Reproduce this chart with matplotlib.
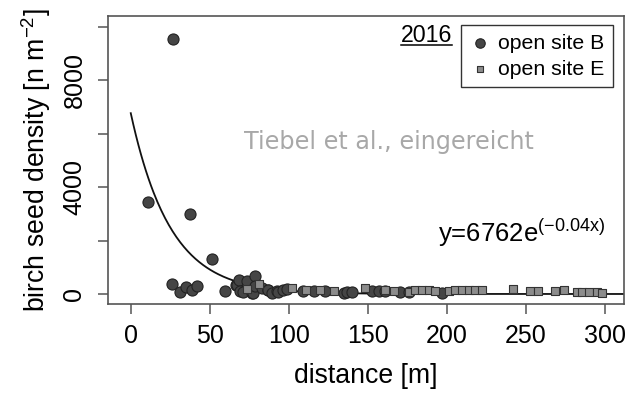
import numpy as np
import matplotlib
matplotlib.use('Agg')
import matplotlib.pyplot as plt
from matplotlib.lines import Line2D

# site B (circles)
b_dist = [11, 26.8, 26, 31, 35, 37.6, 38.8, 41.7, 51.5, 59.8,
          66.5, 67, 68.5, 69, 71.3, 73.4, 76.6, 77.2, 78.7, 78.7,
          82.9, 86.5, 87, 89.6, 92.4, 93.4, 96.6, 98.7, 109, 115.6,
          123, 134.6, 137, 139.9, 152.6, 156.8, 161, 170.5, 176, 196.8]
b_dens = [3440, 9530, 360, 90, 250, 2990, 150, 290, 1300, 110,
          340, 350, 535, 100, 86, 473, 40, 30, 660, 290,
          220, 150, 160, 30, 100, 86, 160, 200, 120, 110,
          130, 40, 60, 70, 110, 100, 120, 80, 60, 30]

# site E (squares)
e_dist = [73.8, 81.4, 101.9, 110.8, 119.8, 128.3, 148.3, 161, 166.3, 175.7,
          180, 184.2, 188.4, 192.6, 201, 205.3, 209.5, 213.7, 218, 222.2,
          242, 252.7, 257.6, 268.5, 273.8, 282.3, 285.4, 289.6, 294.9, 298.1]
e_dens = [200, 370, 220, 160, 140, 120, 230, 150, 130, 60,
          150, 150, 140, 120, 110, 150, 140, 140, 140, 150,
          200, 100, 110, 110, 140, 60, 60, 70, 60, 40]

fit_a = 6762
fit_b = -0.04

plt.rcParams['font.family'] = ['Liberation Sans', 'DejaVu Sans']
plt.rcParams['mathtext.fontset'] = 'custom'
plt.rcParams['mathtext.rm'] = 'Liberation Sans'
plt.rcParams['mathtext.it'] = 'Liberation Sans:italic'
plt.rcParams['mathtext.default'] = 'regular'

fig = plt.figure(figsize=(6.29, 3.93), dpi=100)
ax = fig.add_axes([0.1717, 0.2265, 0.8203, 0.7325])

xx = np.linspace(0, 320, 400)
ax.plot(xx, fit_a * np.exp(fit_b * xx), color='#111111', lw=1.3, zorder=2)

ax.scatter(b_dist, b_dens, s=64, marker='o', facecolor='#454545',
           edgecolor='#222222', linewidth=0.8, zorder=3, label='open site B')
ax.scatter(e_dist, e_dens, s=32, marker='s', facecolor='#8c8c8c',
           edgecolor='#333333', linewidth=0.8, zorder=4, label='open site E')

ax.set_xlim(-14.4, 312)
ax.set_ylim(-374, 10393)
ax.set_xticks([0, 50, 100, 150, 200, 250, 300])
ax.set_yticks([0, 2000, 4000, 6000, 8000, 10000])
ax.set_yticklabels(['0', '', '4000', '', '8000', ''])

for s in ax.spines.values():
    s.set_color('#555555')
    s.set_linewidth(1.2)
ax.tick_params(axis='both', length=7.5, width=1.1, color='#555555',
               labelsize=18, pad=7)
ax.tick_params(axis='y', labelrotation=90, pad=8)
for lab in ax.get_yticklabels():
    lab.set_verticalalignment('center')

ax.set_xlabel('distance [m]', fontsize=19.2, labelpad=11)
ax.set_ylabel(r'birch seed density [n m$^{-2}$]', fontsize=19.2, labelpad=7)

leg = ax.legend(loc='upper right', bbox_to_anchor=(0.9787, 0.969),
                fontsize=15.3, frameon=True, fancybox=False, framealpha=1,
                edgecolor='#333333', handletextpad=0.35, borderpad=0.4,
                handlelength=1.0, labelspacing=0.35, borderaxespad=0,
                markerscale=0.85)
leg.get_frame().set_linewidth(1.0)

yr = ax.text(0.6167, 0.9108, '2016', transform=ax.transAxes,
             fontsize=16.7, ha='center', va='baseline')
ax.text(0.6395, 0.214, r'y=6762e$^{(-0.04x)}$', transform=ax.transAxes,
        fontsize=18.5, ha='left', va='baseline')
ax.text(0.544, 0.5625, 'Tiebel et al., eingereicht', transform=ax.transAxes,
        fontsize=17.2, family='DejaVu Sans', color='#a8a8a8',
        ha='center', va='center')

# underline the year label
fig.canvas.draw()
bb = yr.get_window_extent().transformed(fig.transFigure.inverted())
uy = bb.y0 + 0.08 * bb.height
fig.add_artist(Line2D([bb.x0, bb.x1], [uy, uy], color='black', lw=1.1))

fig.savefig('out.png', dpi=100)
